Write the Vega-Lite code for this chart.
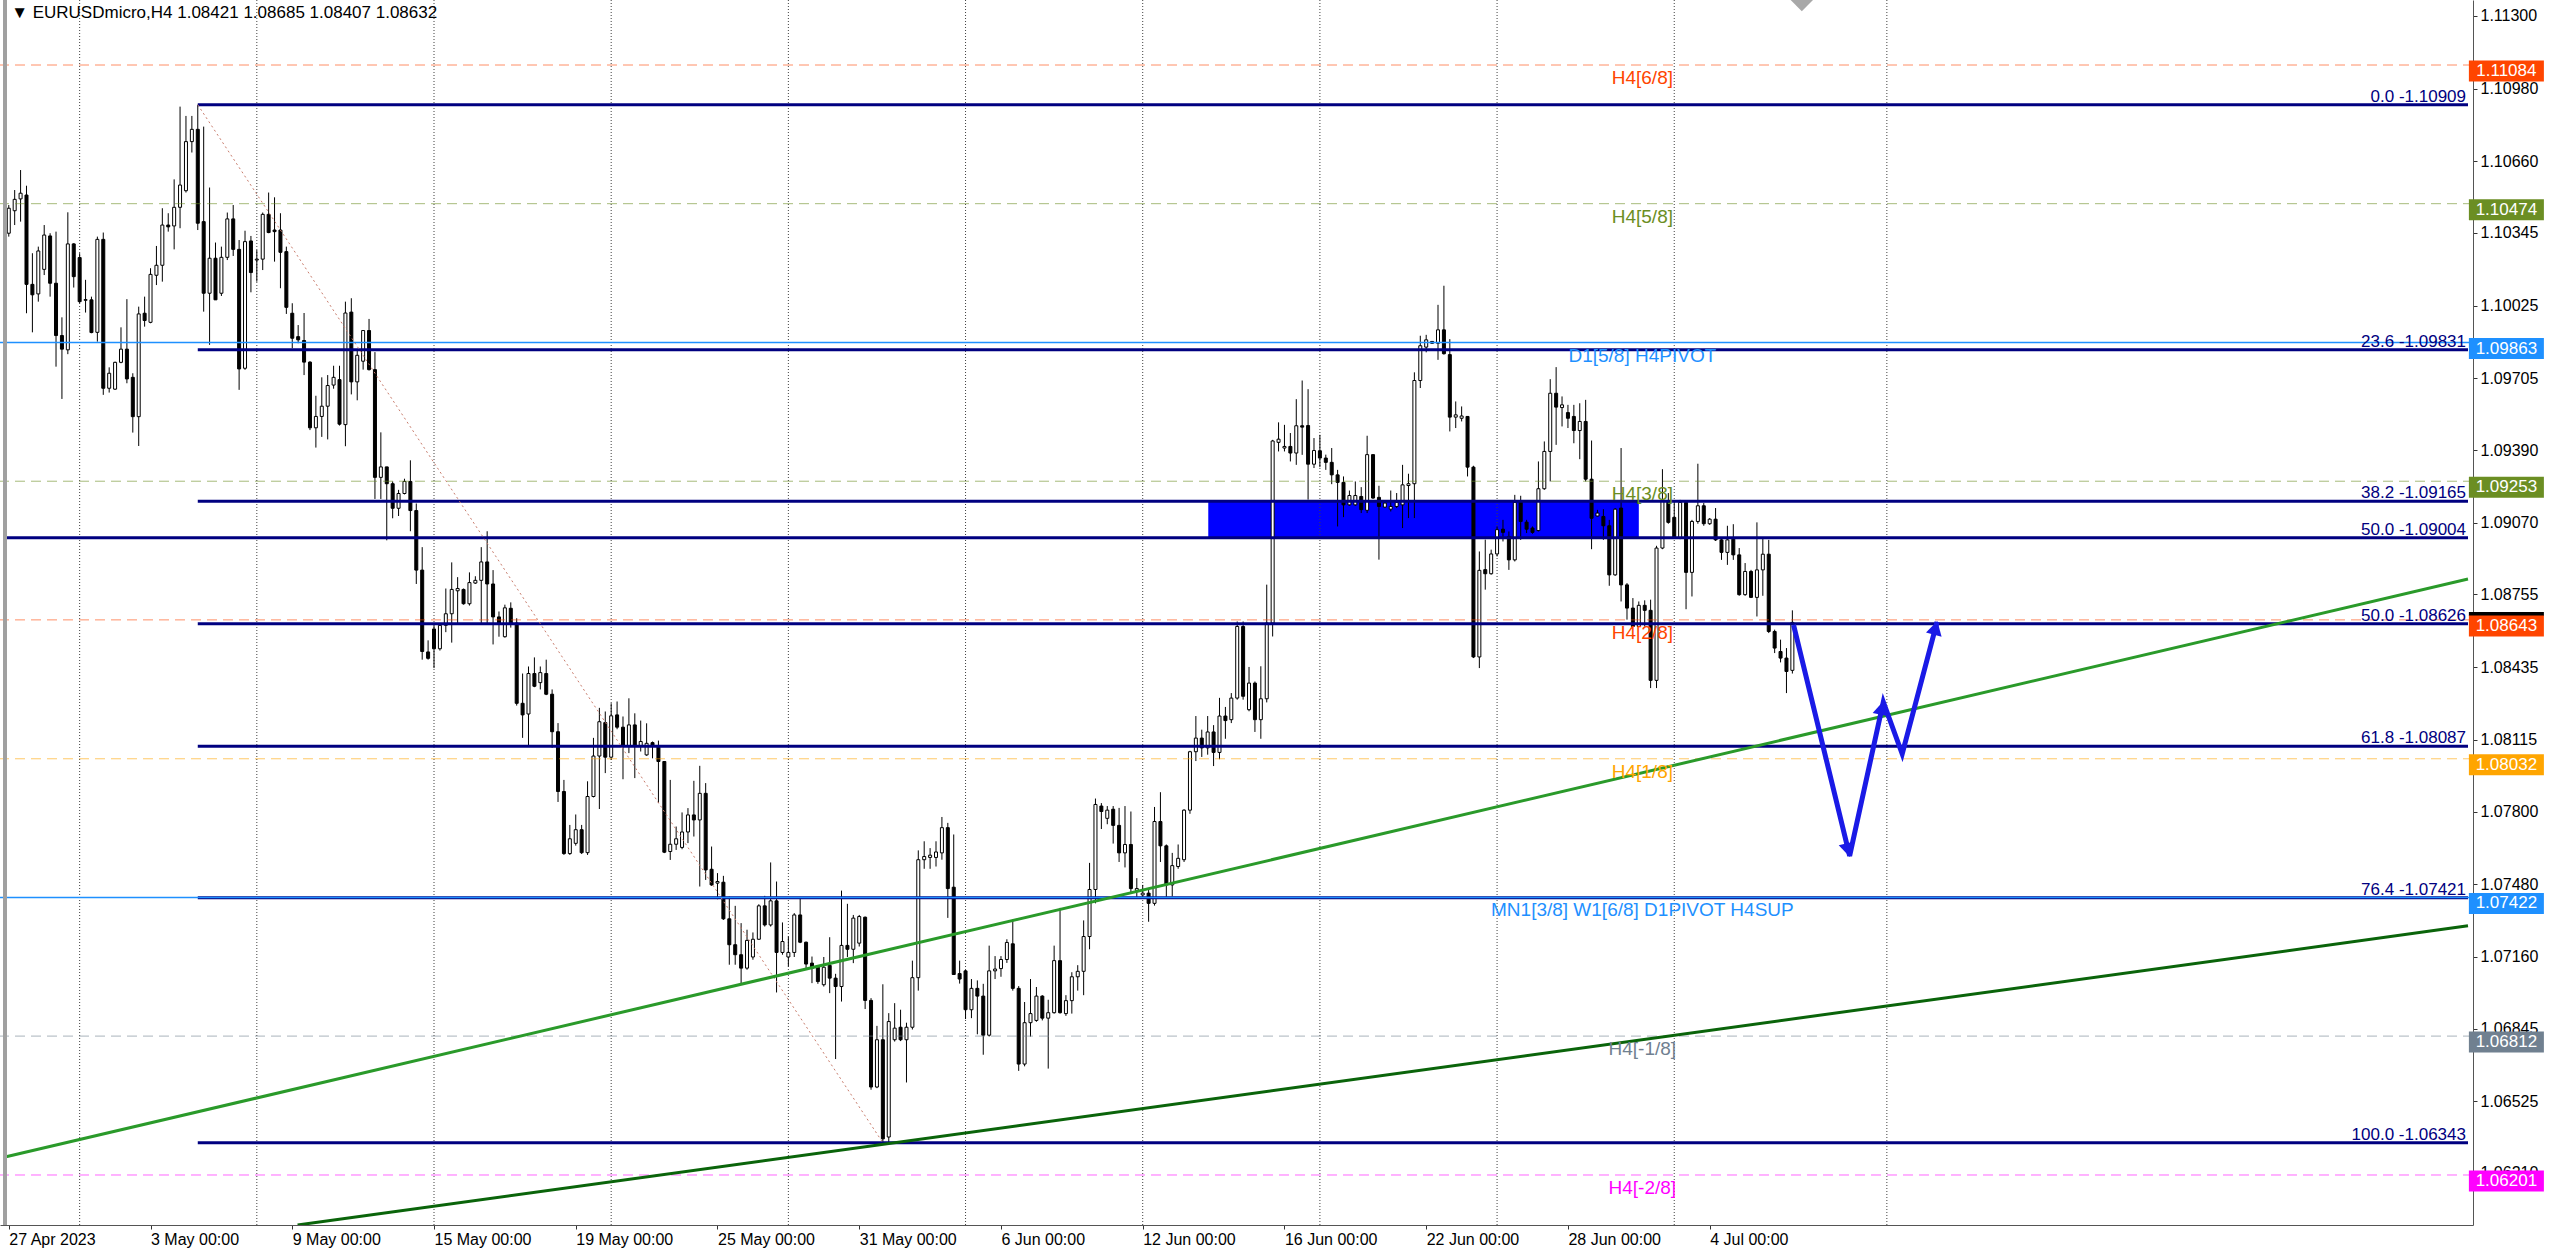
{
"$schema":"https://vega.github.io/schema/vega-lite/v6.json",
"width":2473,"height":1225,
"autosize":{"type":"none"},
"padding":{"left":0,"top":0,"right":87,"bottom":26},
"background":"white",
"config":{"view":{"stroke":null},"font":"Liberation Sans"},
"datasets":{
"one":[{}],
"grid":[{"n":12},{"n":42},{"n":72},{"n":102},{"n":132},{"n":162},{"n":192},{"n":222},{"n":252},{"n":282},{"n":318}],
"zone":[{"n1":203.1,"n2":276,"p1":1.09165,"p2":1.09004}],
"levels":[
{"name":"H4[6/8]","p":1.11084,"kind":"murrey"},
{"name":"H4[5/8]","p":1.10474,"kind":"murrey"},
{"name":"D1[5/8] H4PIVOT","p":1.09863,"kind":"pivot"},
{"name":"H4[3/8]","p":1.09253,"kind":"murrey"},
{"name":"H4[2/8]","p":1.08643,"kind":"murrey"},
{"name":"H4[1/8]","p":1.08032,"kind":"murrey"},
{"name":"MN1[3/8] W1[6/8] D1PIVOT H4SUP","p":1.07422,"kind":"pivot"},
{"name":"H4[-1/8]","p":1.06812,"kind":"murrey"},
{"name":"H4[-2/8]","p":1.06201,"kind":"murrey"}],
"fib":[
{"p":1.10909,"start":32,"label":"0.0 -1.10909"},
{"p":1.09831,"start":32,"label":"23.6 -1.09831"},
{"p":1.09165,"start":32,"label":"38.2 -1.09165"},
{"p":1.09004,"start":-0.64,"label":"50.0 -1.09004"},
{"p":1.08626,"start":32,"label":"50.0 -1.08626"},
{"p":1.08087,"start":32,"label":"61.8 -1.08087"},
{"p":1.07421,"start":32,"label":"76.4 -1.07421"},
{"p":1.06343,"start":32,"label":"100.0 -1.06343"}],
"trends":[
{"line":"A","n1":-0.64,"p1":1.0628,"n2":416.4,"p2":1.08823},
{"line":"B","n1":48.9,"p1":1.05981,"n2":416.4,"p2":1.07297}],
"arrow":[{"i":1,"n":302.2,"p":1.08621},{"i":2,"n":311.7,"p":1.07605},{"i":3,"n":317.4,"p":1.08282},{"i":4,"n":320.6,"p":1.08053},{"i":5,"n":326.5,"p":1.08634}],
"candles":[
{"n":0,"o":1.10344,"h":1.10468,"l":1.10329,"c":1.10454},
{"n":1,"o":1.10443,"h":1.10534,"l":1.1038,"c":1.10493},
{"n":2,"o":1.10495,"h":1.10622,"l":1.10395,"c":1.1052},
{"n":3,"o":1.10512,"h":1.10553,"l":1.09992,"c":1.10119},
{"n":4,"o":1.10119,"h":1.10256,"l":1.09908,"c":1.10073},
{"n":5,"o":1.10077,"h":1.10285,"l":1.10043,"c":1.10266},
{"n":6,"o":1.10185,"h":1.1038,"l":1.1016,"c":1.10336},
{"n":7,"o":1.10332,"h":1.10344,"l":1.10065,"c":1.10124},
{"n":8,"o":1.10124,"h":1.10351,"l":1.09757,"c":1.09894},
{"n":9,"o":1.09894,"h":1.09974,"l":1.09615,"c":1.09834},
{"n":10,"o":1.09831,"h":1.10436,"l":1.09812,"c":1.10297},
{"n":11,"o":1.10297,"h":1.103,"l":1.10105,"c":1.10153},
{"n":12,"o":1.10237,"h":1.10256,"l":1.10036,"c":1.10043},
{"n":13,"o":1.10049,"h":1.10139,"l":1.09995,"c":1.10052},
{"n":14,"o":1.10051,"h":1.10065,"l":1.09904,"c":1.09907},
{"n":15,"o":1.09908,"h":1.10329,"l":1.09867,"c":1.10317},
{"n":16,"o":1.10317,"h":1.10347,"l":1.09633,"c":1.09662},
{"n":17,"o":1.09662,"h":1.09754,"l":1.09643,"c":1.09728},
{"n":18,"o":1.09658,"h":1.09779,"l":1.09655,"c":1.09776},
{"n":19,"o":1.09776,"h":1.0993,"l":1.09772,"c":1.09834},
{"n":20,"o":1.09834,"h":1.10054,"l":1.09684,"c":1.09703},
{"n":21,"o":1.0971,"h":1.09728,"l":1.09467,"c":1.09537},
{"n":22,"o":1.09537,"h":1.10021,"l":1.09408,"c":1.09989},
{"n":23,"o":1.09992,"h":1.10065,"l":1.09933,"c":1.0996},
{"n":24,"o":1.09952,"h":1.1019,"l":1.09948,"c":1.10163},
{"n":25,"o":1.10159,"h":1.10288,"l":1.10116,"c":1.10203},
{"n":26,"o":1.10203,"h":1.10454,"l":1.10131,"c":1.1038},
{"n":27,"o":1.1038,"h":1.10432,"l":1.10351,"c":1.10372},
{"n":28,"o":1.10376,"h":1.10581,"l":1.10273,"c":1.10458},
{"n":29,"o":1.10458,"h":1.10901,"l":1.10366,"c":1.10556},
{"n":30,"o":1.10531,"h":1.1086,"l":1.10523,"c":1.10747},
{"n":31,"o":1.10747,"h":1.1086,"l":1.10699,"c":1.10801},
{"n":32,"o":1.10801,"h":1.10909,"l":1.10358,"c":1.10388},
{"n":33,"o":1.10395,"h":1.10813,"l":1.09999,"c":1.1008},
{"n":34,"o":1.1008,"h":1.10545,"l":1.09853,"c":1.10234},
{"n":35,"o":1.10234,"h":1.10303,"l":1.10051,"c":1.10051},
{"n":36,"o":1.1008,"h":1.10285,"l":1.10068,"c":1.10238},
{"n":37,"o":1.10238,"h":1.10435,"l":1.10226,"c":1.10407},
{"n":38,"o":1.10407,"h":1.10468,"l":1.10244,"c":1.10273},
{"n":39,"o":1.10273,"h":1.10314,"l":1.09655,"c":1.09747},
{"n":40,"o":1.0975,"h":1.10355,"l":1.09743,"c":1.10307},
{"n":41,"o":1.1031,"h":1.10332,"l":1.10084,"c":1.10171},
{"n":42,"o":1.10226,"h":1.1027,"l":1.10131,"c":1.1023},
{"n":43,"o":1.1023,"h":1.10435,"l":1.10182,"c":1.10427},
{"n":44,"o":1.10427,"h":1.10523,"l":1.10344,"c":1.10347},
{"n":45,"o":1.10358,"h":1.10502,"l":1.10219,"c":1.10351},
{"n":46,"o":1.10358,"h":1.10432,"l":1.10102,"c":1.1026},
{"n":47,"o":1.10263,"h":1.10285,"l":1.09989,"c":1.10018},
{"n":48,"o":1.09992,"h":1.10036,"l":1.09838,"c":1.09882},
{"n":49,"o":1.09889,"h":1.0994,"l":1.0986,"c":1.09875},
{"n":50,"o":1.09872,"h":1.09993,"l":1.0972,"c":1.09777},
{"n":51,"o":1.09777,"h":1.09781,"l":1.09478,"c":1.09488},
{"n":52,"o":1.09488,"h":1.09629,"l":1.09401,"c":1.09538},
{"n":53,"o":1.09538,"h":1.0971,"l":1.09448,"c":1.09583},
{"n":54,"o":1.09583,"h":1.0972,"l":1.09437,"c":1.09674},
{"n":55,"o":1.09676,"h":1.09761,"l":1.0966,"c":1.0971},
{"n":56,"o":1.097,"h":1.09761,"l":1.09498,"c":1.09504},
{"n":57,"o":1.09502,"h":1.10043,"l":1.09407,"c":1.09993},
{"n":58,"o":1.09997,"h":1.10058,"l":1.09635,"c":1.0969},
{"n":59,"o":1.0969,"h":1.09827,"l":1.09609,"c":1.09807},
{"n":60,"o":1.09781,"h":1.09916,"l":1.09744,"c":1.09916},
{"n":61,"o":1.09916,"h":1.09967,"l":1.0974,"c":1.09744},
{"n":62,"o":1.09744,"h":1.09821,"l":1.09175,"c":1.0927},
{"n":63,"o":1.0927,"h":1.09468,"l":1.09175,"c":1.09316},
{"n":64,"o":1.09316,"h":1.09316,"l":1.08993,"c":1.09242},
{"n":65,"o":1.09242,"h":1.09252,"l":1.0909,"c":1.09134},
{"n":66,"o":1.09134,"h":1.09215,"l":1.091,"c":1.09199},
{"n":67,"o":1.09199,"h":1.09264,"l":1.09195,"c":1.09252},
{"n":68,"o":1.09252,"h":1.09345,"l":1.09033,"c":1.09124},
{"n":69,"o":1.09124,"h":1.09155,"l":1.08801,"c":1.08862},
{"n":70,"o":1.08862,"h":1.08963,"l":1.08468,"c":1.08504},
{"n":71,"o":1.08502,"h":1.08553,"l":1.08468,"c":1.08474},
{"n":72,"o":1.08603,"h":1.08629,"l":1.08431,"c":1.08516},
{"n":73,"o":1.08516,"h":1.08629,"l":1.08508,"c":1.08619},
{"n":74,"o":1.08619,"h":1.08781,"l":1.08589,"c":1.0867},
{"n":75,"o":1.0867,"h":1.08896,"l":1.08543,"c":1.08777},
{"n":76,"o":1.08771,"h":1.08831,"l":1.08629,"c":1.08781},
{"n":77,"o":1.08777,"h":1.08781,"l":1.0871,"c":1.08714},
{"n":78,"o":1.08714,"h":1.08852,"l":1.08706,"c":1.08807},
{"n":79,"o":1.08805,"h":1.08835,"l":1.08801,"c":1.08817},
{"n":80,"o":1.08817,"h":1.08963,"l":1.08629,"c":1.08898},
{"n":81,"o":1.08898,"h":1.09033,"l":1.08629,"c":1.08801},
{"n":82,"o":1.08801,"h":1.08862,"l":1.08535,"c":1.08656},
{"n":83,"o":1.08656,"h":1.0868,"l":1.08569,"c":1.08623},
{"n":84,"o":1.08569,"h":1.0871,"l":1.08565,"c":1.08696},
{"n":85,"o":1.08694,"h":1.0872,"l":1.08609,"c":1.08629},
{"n":86,"o":1.08629,"h":1.0865,"l":1.08266,"c":1.08276},
{"n":87,"o":1.08276,"h":1.08407,"l":1.08124,"c":1.08225},
{"n":88,"o":1.08229,"h":1.08438,"l":1.08088,"c":1.08407},
{"n":89,"o":1.08407,"h":1.08478,"l":1.08347,"c":1.08351},
{"n":90,"o":1.08367,"h":1.08438,"l":1.08337,"c":1.08411},
{"n":91,"o":1.08407,"h":1.08468,"l":1.08312,"c":1.08316},
{"n":92,"o":1.08316,"h":1.08337,"l":1.0808,"c":1.08151},
{"n":93,"o":1.08151,"h":1.08189,"l":1.07842,"c":1.07888},
{"n":94,"o":1.07888,"h":1.07939,"l":1.07609,"c":1.07615},
{"n":95,"o":1.07615,"h":1.07741,"l":1.07609,"c":1.0768},
{"n":96,"o":1.0766,"h":1.07787,"l":1.0765,"c":1.0772},
{"n":97,"o":1.0772,"h":1.07741,"l":1.07613,"c":1.07619},
{"n":98,"o":1.07619,"h":1.07933,"l":1.07609,"c":1.07866},
{"n":99,"o":1.07866,"h":1.08124,"l":1.07862,"c":1.08044},
{"n":100,"o":1.08044,"h":1.08256,"l":1.07811,"c":1.08195},
{"n":101,"o":1.08191,"h":1.0824,"l":1.07969,"c":1.08039},
{"n":102,"o":1.08039,"h":1.08276,"l":1.08027,"c":1.08221},
{"n":103,"o":1.08225,"h":1.08284,"l":1.08162,"c":1.08171},
{"n":104,"o":1.08171,"h":1.08218,"l":1.07942,"c":1.08086},
{"n":105,"o":1.08086,"h":1.08298,"l":1.08057,"c":1.08181},
{"n":106,"o":1.08181,"h":1.08232,"l":1.07947,"c":1.08086},
{"n":107,"o":1.08089,"h":1.082,"l":1.08064,"c":1.08108},
{"n":108,"o":1.08049,"h":1.08188,"l":1.08045,"c":1.081},
{"n":109,"o":1.08103,"h":1.08108,"l":1.08034,"c":1.08092},
{"n":110,"o":1.08083,"h":1.08112,"l":1.07837,"c":1.0802},
{"n":111,"o":1.0802,"h":1.0802,"l":1.07617,"c":1.07621},
{"n":112,"o":1.07624,"h":1.07939,"l":1.07587,"c":1.07656},
{"n":113,"o":1.07656,"h":1.07734,"l":1.07631,"c":1.0768},
{"n":114,"o":1.07642,"h":1.07796,"l":1.07634,"c":1.0771},
{"n":115,"o":1.0771,"h":1.07815,"l":1.07661,"c":1.07785},
{"n":116,"o":1.07785,"h":1.07935,"l":1.0769,"c":1.07763},
{"n":117,"o":1.07763,"h":1.08001,"l":1.0747,"c":1.0788},
{"n":118,"o":1.0788,"h":1.07925,"l":1.07499,"c":1.07543},
{"n":119,"o":1.07546,"h":1.07646,"l":1.07473,"c":1.07477},
{"n":120,"o":1.07485,"h":1.07529,"l":1.07414,"c":1.07492},
{"n":121,"o":1.07489,"h":1.07517,"l":1.07323,"c":1.07328},
{"n":122,"o":1.07328,"h":1.07426,"l":1.07126,"c":1.07214},
{"n":123,"o":1.07214,"h":1.07385,"l":1.07126,"c":1.0717},
{"n":124,"o":1.0717,"h":1.07309,"l":1.07045,"c":1.07111},
{"n":125,"o":1.07111,"h":1.0728,"l":1.07104,"c":1.07233},
{"n":126,"o":1.0716,"h":1.07268,"l":1.07148,"c":1.07238},
{"n":127,"o":1.07238,"h":1.07392,"l":1.07236,"c":1.07385},
{"n":128,"o":1.07385,"h":1.07429,"l":1.07294,"c":1.07301},
{"n":129,"o":1.07301,"h":1.07576,"l":1.07294,"c":1.07407},
{"n":130,"o":1.07407,"h":1.07492,"l":1.07004,"c":1.0718},
{"n":131,"o":1.0718,"h":1.07312,"l":1.0717,"c":1.07228},
{"n":132,"o":1.0716,"h":1.0725,"l":1.07118,"c":1.0718},
{"n":133,"o":1.0718,"h":1.07353,"l":1.0716,"c":1.07345},
{"n":134,"o":1.07345,"h":1.07419,"l":1.07221,"c":1.07225},
{"n":135,"o":1.07225,"h":1.07228,"l":1.07111,"c":1.07129},
{"n":136,"o":1.07133,"h":1.07162,"l":1.07045,"c":1.07111},
{"n":137,"o":1.07115,"h":1.07121,"l":1.07042,"c":1.07052},
{"n":138,"o":1.07038,"h":1.0716,"l":1.0703,"c":1.07115},
{"n":139,"o":1.07123,"h":1.07247,"l":1.07001,"c":1.07067},
{"n":140,"o":1.07067,"h":1.07086,"l":1.06711,"c":1.0703},
{"n":141,"o":1.0703,"h":1.07452,"l":1.06964,"c":1.07211},
{"n":142,"o":1.07211,"h":1.07394,"l":1.0716,"c":1.07194},
{"n":143,"o":1.07194,"h":1.07345,"l":1.07133,"c":1.07331},
{"n":144,"o":1.07221,"h":1.07345,"l":1.07206,"c":1.07338},
{"n":145,"o":1.07335,"h":1.07338,"l":1.06931,"c":1.06969},
{"n":146,"o":1.06969,"h":1.06979,"l":1.06576,"c":1.06588},
{"n":147,"o":1.06588,"h":1.06857,"l":1.06583,"c":1.06796},
{"n":148,"o":1.06796,"h":1.0704,"l":1.06343,"c":1.0636},
{"n":149,"o":1.06368,"h":1.06913,"l":1.06343,"c":1.06876},
{"n":150,"o":1.06796,"h":1.06957,"l":1.06788,"c":1.06847},
{"n":151,"o":1.06851,"h":1.06928,"l":1.0679,"c":1.06796},
{"n":152,"o":1.06796,"h":1.06871,"l":1.06608,"c":1.06851},
{"n":153,"o":1.06851,"h":1.07144,"l":1.06841,"c":1.07069},
{"n":154,"o":1.07069,"h":1.07629,"l":1.07012,"c":1.07588},
{"n":155,"o":1.07588,"h":1.07669,"l":1.07548,"c":1.07602},
{"n":156,"o":1.07598,"h":1.07639,"l":1.07548,"c":1.07608},
{"n":157,"o":1.07598,"h":1.07669,"l":1.07558,"c":1.07622},
{"n":158,"o":1.07618,"h":1.07776,"l":1.07588,"c":1.07729},
{"n":159,"o":1.07729,"h":1.0775,"l":1.07332,"c":1.07461},
{"n":160,"o":1.07467,"h":1.07699,"l":1.07083,"c":1.07083},
{"n":161,"o":1.07087,"h":1.07144,"l":1.07043,"c":1.07063},
{"n":162,"o":1.07099,"h":1.07103,"l":1.06887,"c":1.06928},
{"n":163,"o":1.06928,"h":1.07063,"l":1.06891,"c":1.07022},
{"n":164,"o":1.07022,"h":1.07057,"l":1.0682,"c":1.06988},
{"n":165,"o":1.06988,"h":1.07042,"l":1.0673,"c":1.06816},
{"n":166,"o":1.06816,"h":1.0721,"l":1.0681,"c":1.07099},
{"n":167,"o":1.07099,"h":1.07164,"l":1.07063,"c":1.07107},
{"n":168,"o":1.07109,"h":1.07164,"l":1.07073,"c":1.07149},
{"n":169,"o":1.07149,"h":1.07238,"l":1.07134,"c":1.07224},
{"n":170,"o":1.07218,"h":1.07325,"l":1.07012,"c":1.07022},
{"n":171,"o":1.07022,"h":1.07032,"l":1.06659,"c":1.06689},
{"n":172,"o":1.06689,"h":1.06962,"l":1.06679,"c":1.06871},
{"n":173,"o":1.06871,"h":1.07063,"l":1.0681,"c":1.06911},
{"n":174,"o":1.06881,"h":1.07028,"l":1.06875,"c":1.06988},
{"n":175,"o":1.06988,"h":1.06992,"l":1.06881,"c":1.06891},
{"n":176,"o":1.06891,"h":1.06972,"l":1.06669,"c":1.06915},
{"n":177,"o":1.06915,"h":1.0721,"l":1.06911,"c":1.07144},
{"n":178,"o":1.07144,"h":1.07376,"l":1.06911,"c":1.06915},
{"n":179,"o":1.06911,"h":1.06992,"l":1.06901,"c":1.06968},
{"n":180,"o":1.06968,"h":1.07093,"l":1.06911,"c":1.07073},
{"n":181,"o":1.07073,"h":1.07124,"l":1.07012,"c":1.07097},
{"n":182,"o":1.07097,"h":1.07321,"l":1.06992,"c":1.0725},
{"n":183,"o":1.0725,"h":1.07574,"l":1.07194,"c":1.07457},
{"n":184,"o":1.07457,"h":1.07857,"l":1.07396,"c":1.07831},
{"n":185,"o":1.07824,"h":1.07837,"l":1.07723,"c":1.078},
{"n":186,"o":1.0777,"h":1.07824,"l":1.07744,"c":1.07806},
{"n":187,"o":1.0781,"h":1.07824,"l":1.07659,"c":1.07739},
{"n":188,"o":1.07739,"h":1.07816,"l":1.07578,"c":1.07618},
{"n":189,"o":1.07618,"h":1.07824,"l":1.07554,"c":1.07655},
{"n":190,"o":1.07655,"h":1.078,"l":1.07437,"c":1.07461},
{"n":191,"o":1.07453,"h":1.07507,"l":1.07416,"c":1.07461},
{"n":192,"o":1.07433,"h":1.07477,"l":1.07416,"c":1.07441},
{"n":193,"o":1.07441,"h":1.07461,"l":1.07315,"c":1.07396},
{"n":194,"o":1.07396,"h":1.0782,"l":1.07386,"c":1.07756},
{"n":195,"o":1.07756,"h":1.07885,"l":1.07578,"c":1.07649},
{"n":196,"o":1.07649,"h":1.07655,"l":1.0742,"c":1.07477},
{"n":197,"o":1.07477,"h":1.07618,"l":1.07426,"c":1.07562},
{"n":198,"o":1.07558,"h":1.07655,"l":1.07548,"c":1.07594},
{"n":199,"o":1.07588,"h":1.0781,"l":1.07578,"c":1.07806},
{"n":200,"o":1.07806,"h":1.08067,"l":1.0779,"c":1.08063},
{"n":201,"o":1.08063,"h":1.0822,"l":1.08022,"c":1.08123},
{"n":202,"o":1.08123,"h":1.0816,"l":1.0804,"c":1.0808},
{"n":203,"o":1.0808,"h":1.0822,"l":1.0805,"c":1.0815},
{"n":204,"o":1.0815,"h":1.0818,"l":1.08,"c":1.0806},
{"n":205,"o":1.0806,"h":1.083,"l":1.0803,"c":1.0822},
{"n":206,"o":1.0822,"h":1.0826,"l":1.0812,"c":1.082},
{"n":207,"o":1.08204,"h":1.08321,"l":1.08189,"c":1.08299},
{"n":208,"o":1.08299,"h":1.08636,"l":1.08292,"c":1.08614},
{"n":209,"o":1.08614,"h":1.08636,"l":1.08292,"c":1.08307},
{"n":210,"o":1.08248,"h":1.08436,"l":1.08241,"c":1.08365},
{"n":211,"o":1.08365,"h":1.08372,"l":1.0815,"c":1.08204},
{"n":212,"o":1.08204,"h":1.08439,"l":1.0812,"c":1.08296},
{"n":213,"o":1.08296,"h":1.08798,"l":1.0828,"c":1.08629},
{"n":214,"o":1.08629,"h":1.09435,"l":1.0857,"c":1.0943},
{"n":215,"o":1.09424,"h":1.09512,"l":1.09384,"c":1.09438},
{"n":216,"o":1.09399,"h":1.09501,"l":1.09384,"c":1.09406},
{"n":217,"o":1.09406,"h":1.09465,"l":1.0934,"c":1.09377},
{"n":218,"o":1.09377,"h":1.09614,"l":1.09325,"c":1.09497},
{"n":219,"o":1.09497,"h":1.09696,"l":1.09369,"c":1.09491},
{"n":220,"o":1.09498,"h":1.09658,"l":1.09172,"c":1.09328},
{"n":221,"o":1.09328,"h":1.09443,"l":1.09311,"c":1.09388},
{"n":222,"o":1.09387,"h":1.09457,"l":1.09315,"c":1.09355},
{"n":223,"o":1.09355,"h":1.0937,"l":1.09303,"c":1.09336},
{"n":224,"o":1.09336,"h":1.09399,"l":1.0924,"c":1.09281},
{"n":225,"o":1.09281,"h":1.09303,"l":1.09054,"c":1.09248},
{"n":226,"o":1.09248,"h":1.09274,"l":1.09095,"c":1.09149},
{"n":227,"o":1.09149,"h":1.09212,"l":1.09145,"c":1.0919},
{"n":228,"o":1.09149,"h":1.09252,"l":1.09145,"c":1.0919},
{"n":229,"o":1.09186,"h":1.09227,"l":1.09113,"c":1.09128},
{"n":230,"o":1.09125,"h":1.09453,"l":1.09113,"c":1.0937},
{"n":231,"o":1.0937,"h":1.0937,"l":1.09176,"c":1.09179},
{"n":232,"o":1.09182,"h":1.09233,"l":1.08908,"c":1.09142},
{"n":233,"o":1.09139,"h":1.09164,"l":1.09135,"c":1.09157},
{"n":234,"o":1.0913,"h":1.09212,"l":1.0912,"c":1.09142},
{"n":235,"o":1.09142,"h":1.09201,"l":1.09135,"c":1.0916},
{"n":236,"o":1.09149,"h":1.09325,"l":1.09047,"c":1.09237},
{"n":237,"o":1.09234,"h":1.09286,"l":1.09091,"c":1.09242},
{"n":238,"o":1.09242,"h":1.09732,"l":1.09091,"c":1.09696},
{"n":239,"o":1.09696,"h":1.09893,"l":1.09663,"c":1.09849},
{"n":240,"o":1.09843,"h":1.09897,"l":1.0982,"c":1.09875},
{"n":241,"o":1.09868,"h":1.09868,"l":1.09858,"c":1.0986},
{"n":242,"o":1.0986,"h":1.10029,"l":1.09787,"c":1.09919},
{"n":243,"o":1.09919,"h":1.10113,"l":1.0981,"c":1.09814},
{"n":244,"o":1.0981,"h":1.09878,"l":1.09472,"c":1.09535},
{"n":245,"o":1.09535,"h":1.09604,"l":1.09487,"c":1.09545},
{"n":246,"o":1.0953,"h":1.09582,"l":1.09516,"c":1.0954},
{"n":247,"o":1.09538,"h":1.0954,"l":1.09274,"c":1.09315},
{"n":248,"o":1.09315,"h":1.09321,"l":1.08475,"c":1.0848},
{"n":249,"o":1.0848,"h":1.08944,"l":1.08431,"c":1.08861},
{"n":250,"o":1.08864,"h":1.08996,"l":1.08776,"c":1.08846},
{"n":251,"o":1.08846,"h":1.08952,"l":1.08842,"c":1.08933},
{"n":252,"o":1.08933,"h":1.09054,"l":1.08922,"c":1.0904},
{"n":253,"o":1.09042,"h":1.09083,"l":1.08988,"c":1.09028},
{"n":254,"o":1.0901,"h":1.09032,"l":1.08863,"c":1.08907},
{"n":255,"o":1.08907,"h":1.09193,"l":1.089,"c":1.0916},
{"n":256,"o":1.09167,"h":1.09189,"l":1.08995,"c":1.09076},
{"n":257,"o":1.09073,"h":1.09083,"l":1.09025,"c":1.09042},
{"n":258,"o":1.09047,"h":1.09054,"l":1.09022,"c":1.09028},
{"n":259,"o":1.09036,"h":1.0934,"l":1.09032,"c":1.0922},
{"n":260,"o":1.0922,"h":1.09428,"l":1.09215,"c":1.09384},
{"n":261,"o":1.09384,"h":1.09702,"l":1.09252,"c":1.0964},
{"n":262,"o":1.0964,"h":1.09755,"l":1.09413,"c":1.09579},
{"n":263,"o":1.09577,"h":1.09626,"l":1.09494,"c":1.09589},
{"n":264,"o":1.09555,"h":1.09589,"l":1.09487,"c":1.0953},
{"n":265,"o":1.09538,"h":1.09589,"l":1.0942,"c":1.09476},
{"n":266,"o":1.09476,"h":1.09596,"l":1.0935,"c":1.09516},
{"n":267,"o":1.09516,"h":1.09611,"l":1.09252,"c":1.09262},
{"n":268,"o":1.09262,"h":1.09432,"l":1.08954,"c":1.0909},
{"n":269,"o":1.091,"h":1.09127,"l":1.09098,"c":1.09113},
{"n":270,"o":1.09098,"h":1.0913,"l":1.08995,"c":1.09057},
{"n":271,"o":1.09057,"h":1.09083,"l":1.08793,"c":1.08841},
{"n":272,"o":1.08841,"h":1.09135,"l":1.08837,"c":1.0913},
{"n":273,"o":1.09135,"h":1.09399,"l":1.08724,"c":1.08797},
{"n":274,"o":1.08797,"h":1.08805,"l":1.08644,"c":1.08695},
{"n":275,"o":1.08695,"h":1.08739,"l":1.08611,"c":1.08614},
{"n":276,"o":1.08614,"h":1.08724,"l":1.08611,"c":1.08707},
{"n":277,"o":1.08707,"h":1.08729,"l":1.08614,"c":1.08685},
{"n":278,"o":1.08685,"h":1.08732,"l":1.08343,"c":1.08377},
{"n":279,"o":1.08377,"h":1.08969,"l":1.08343,"c":1.08959},
{"n":280,"o":1.08959,"h":1.09306,"l":1.08954,"c":1.09167},
{"n":281,"o":1.09167,"h":1.09201,"l":1.09066,"c":1.09072},
{"n":282,"o":1.09094,"h":1.09164,"l":1.09,"c":1.09003},
{"n":283,"o":1.09003,"h":1.09171,"l":1.08998,"c":1.0916},
{"n":284,"o":1.0916,"h":1.09164,"l":1.0869,"c":1.08852},
{"n":285,"o":1.08852,"h":1.09083,"l":1.08746,"c":1.09076},
{"n":286,"o":1.09076,"h":1.0933,"l":1.09066,"c":1.09145},
{"n":287,"o":1.09145,"h":1.09157,"l":1.09057,"c":1.09066},
{"n":288,"o":1.09066,"h":1.09091,"l":1.09061,"c":1.09086},
{"n":289,"o":1.09086,"h":1.09135,"l":1.0899,"c":1.08995},
{"n":290,"o":1.08995,"h":1.09003,"l":1.08907,"c":1.0894},
{"n":291,"o":1.0894,"h":1.09057,"l":1.08885,"c":1.08995},
{"n":292,"o":1.08998,"h":1.09064,"l":1.08907,"c":1.08929},
{"n":293,"o":1.08929,"h":1.08959,"l":1.08749,"c":1.08754},
{"n":294,"o":1.08754,"h":1.08893,"l":1.08749,"c":1.08856},
{"n":295,"o":1.08856,"h":1.08863,"l":1.08739,"c":1.08742},
{"n":296,"o":1.08742,"h":1.09072,"l":1.08658,"c":1.08863},
{"n":297,"o":1.08863,"h":1.09003,"l":1.08749,"c":1.08932},
{"n":298,"o":1.08932,"h":1.08995,"l":1.08585,"c":1.08592},
{"n":299,"o":1.08592,"h":1.086,"l":1.08497,"c":1.08519},
{"n":300,"o":1.08504,"h":1.08556,"l":1.08456,"c":1.08475},
{"n":301,"o":1.08475,"h":1.08519,"l":1.08321,"c":1.08416},
{"n":302,"o":1.08421,"h":1.08685,"l":1.08407,"c":1.08632}]
},
"layer":[
{"data":{"name":"zone"},"mark":{"type":"rect","fill":"#0000FF"},
 "encoding":{"x":{"field":"n1","type":"quantitative","scale":{"domain":[-0.64,416.4],"nice":false,"zero":false},
   "axis":{"orient":"bottom","values":[0,24,48,72,96,120,144,168,192,216,240,264,288],
    "labelExpr":"['27 Apr 2023','3 May 00:00','9 May 00:00','15 May 00:00','19 May 00:00','25 May 00:00','31 May 00:00','6 Jun 00:00','12 Jun 00:00','16 Jun 00:00','22 Jun 00:00','28 Jun 00:00','4 Jul 00:00'][round(datum.value/24)]",
    "labelAlign":"left","labelFontSize":16,"labelColor":"#000000","labelFont":"Liberation Sans","tickSize":4,"tickColor":"#333333","domainColor":"#555555","labelPadding":2,"grid":false,"title":null,"labelOverlap":false,"labelFlush":false,"labelBound":false}},
  "x2":{"field":"n2"},
  "y":{"field":"p1","type":"quantitative","scale":{"domain":[1.05981,1.1137],"nice":false,"zero":false},
   "axis":{"orient":"right","values":[1.113,1.1098,1.1066,1.10345,1.10025,1.09705,1.0939,1.0907,1.08755,1.08435,1.08115,1.078,1.0748,1.0716,1.06845,1.06525,1.0621],
    "format":".5f","labelFontSize":16,"labelColor":"#000000","labelFont":"Liberation Sans","tickSize":4,"tickColor":"#333333","domainColor":"#555555","labelPadding":3,"grid":false,"title":null,"labelOverlap":false,"labelFlush":false,"labelBound":false}},
  "y2":{"field":"p2"}}},
{"data":{"name":"grid"},"mark":{"type":"rule","color":"#404040","strokeWidth":1,"strokeDash":[1,2]},
 "encoding":{"x":{"field":"n","type":"quantitative","scale":{"domain":[-0.64,416.4],"nice":false,"zero":false}}}},
{"data":{"name":"candles"},"mark":{"type":"rule","color":"#000000","strokeWidth":1},
 "encoding":{
  "x":{"field":"n","type":"quantitative","scale":{"domain":[-0.64,416.4],"nice":false,"zero":false}},
  "y":{"field":"l","type":"quantitative","scale":{"domain":[1.05981,1.1137],"nice":false,"zero":false}},
  "y2":{"field":"h"}}},
{"data":{"name":"candles"},"mark":{"type":"bar","width":3,"stroke":"#000000","strokeWidth":1},
 "encoding":{
  "x":{"field":"n","type":"quantitative","scale":{"domain":[-0.64,416.4],"nice":false,"zero":false}},
  "y":{"field":"o","type":"quantitative","scale":{"domain":[1.05981,1.1137],"nice":false,"zero":false}},
  "y2":{"field":"c"},
  "fill":{"condition":{"test":"datum.c >= datum.o","value":"#ffffff"},"value":"#000000"}}},
{"data":{"name":"levels"},"transform":[{"filter":"datum.kind == 'murrey'"}],
 "mark":{"type":"rule","strokeWidth":1,"strokeDash":[10,6],"opacity":0.6},
 "encoding":{
  "y":{"field":"p","type":"quantitative","scale":{"domain":[1.05981,1.1137],"nice":false,"zero":false}},
  "color":{"field":"name","type":"nominal","legend":null,
   "scale":{"domain":["H4[6/8]","H4[5/8]","D1[5/8] H4PIVOT","H4[3/8]","H4[2/8]","H4[1/8]","MN1[3/8] W1[6/8] D1PIVOT H4SUP","H4[-1/8]","H4[-2/8]"],
    "range":["#FF4500","#6B8E23","#1E90FF","#6B8E23","#FF4500","#FFA500","#1E90FF","#708090","#FF00FF"]}}}},
{"data":{"name":"fib"},"mark":{"type":"rule","color":"#000080","strokeWidth":3},
 "encoding":{
  "x":{"field":"start","type":"quantitative","scale":{"domain":[-0.64,416.4],"nice":false,"zero":false}},
  "x2":{"datum":416.4},
  "y":{"field":"p","type":"quantitative","scale":{"domain":[1.05981,1.1137],"nice":false,"zero":false}}}},
{"data":{"name":"levels"},"transform":[{"filter":"datum.kind == 'pivot'"}],
 "mark":{"type":"rule","strokeWidth":1.5},
 "encoding":{
  "y":{"field":"p","type":"quantitative","scale":{"domain":[1.05981,1.1137],"nice":false,"zero":false}},
  "color":{"field":"name","type":"nominal","legend":null,
   "scale":{"domain":["H4[6/8]","H4[5/8]","D1[5/8] H4PIVOT","H4[3/8]","H4[2/8]","H4[1/8]","MN1[3/8] W1[6/8] D1PIVOT H4SUP","H4[-1/8]","H4[-2/8]"],
    "range":["#FF4500","#6B8E23","#1E90FF","#6B8E23","#FF4500","#FFA500","#1E90FF","#708090","#FF00FF"]}}}},
{"data":{"name":"one"},"mark":{"type":"rule","color":"#C87C6C","strokeWidth":1,"strokeDash":[2,3]},
 "encoding":{
  "x":{"datum":32,"type":"quantitative","scale":{"domain":[-0.64,416.4],"nice":false,"zero":false}},
  "x2":{"datum":148},
  "y":{"datum":1.10909,"type":"quantitative","scale":{"domain":[1.05981,1.1137],"nice":false,"zero":false}},
  "y2":{"datum":1.06343}}},
{"data":{"name":"trends"},"transform":[{"filter":"datum.line == 'A'"}],"mark":{"type":"rule","strokeWidth":3,"clip":true,"color":"#2a9a2a"},
 "encoding":{
  "x":{"field":"n1","type":"quantitative","scale":{"domain":[-0.64,416.4],"nice":false,"zero":false}},
  "x2":{"field":"n2"},
  "y":{"field":"p1","type":"quantitative","scale":{"domain":[1.05981,1.1137],"nice":false,"zero":false}},
  "y2":{"field":"p2"}}},
{"data":{"name":"trends"},"transform":[{"filter":"datum.line == 'B'"}],"mark":{"type":"rule","strokeWidth":3,"clip":true,"color":"#0a640a"},
 "encoding":{
  "x":{"field":"n1","type":"quantitative","scale":{"domain":[-0.64,416.4],"nice":false,"zero":false}},
  "x2":{"field":"n2"},
  "y":{"field":"p1","type":"quantitative","scale":{"domain":[1.05981,1.1137],"nice":false,"zero":false}},
  "y2":{"field":"p2"}}},
{"data":{"name":"levels"},
 "mark":{"type":"text","fontSize":19,"baseline":"top","align":"center","dy":4,"font":"Liberation Sans"},
 "encoding":{
  "x":{"datum":276.6,"type":"quantitative","scale":{"domain":[-0.64,416.4],"nice":false,"zero":false}},
  "y":{"field":"p","type":"quantitative","scale":{"domain":[1.05981,1.1137],"nice":false,"zero":false}},
  "text":{"field":"name"},
  "color":{"field":"name","type":"nominal","legend":null,
   "scale":{"domain":["H4[6/8]","H4[5/8]","D1[5/8] H4PIVOT","H4[3/8]","H4[2/8]","H4[1/8]","MN1[3/8] W1[6/8] D1PIVOT H4SUP","H4[-1/8]","H4[-2/8]"],
    "range":["#FF4500","#6B8E23","#1E90FF","#6B8E23","#FF4500","#FFA500","#1E90FF","#708090","#FF00FF"]}}}},
{"data":{"name":"fib"},
 "mark":{"type":"text","fontSize":17,"baseline":"alphabetic","align":"right","dy":-3,"dx":-2,"color":"#000080","font":"Liberation Sans"},
 "encoding":{
  "x":{"datum":416.4,"type":"quantitative","scale":{"domain":[-0.64,416.4],"nice":false,"zero":false}},
  "y":{"field":"p","type":"quantitative","scale":{"domain":[1.05981,1.1137],"nice":false,"zero":false}},
  "text":{"field":"label"}}},
{"data":{"name":"arrow"},"mark":{"type":"line","color":"#1A1AE6","strokeWidth":5,"strokeJoin":"miter","strokeCap":"butt"},
 "encoding":{
  "x":{"field":"n","type":"quantitative","scale":{"domain":[-0.64,416.4],"nice":false,"zero":false}},
  "y":{"field":"p","type":"quantitative","scale":{"domain":[1.05981,1.1137],"nice":false,"zero":false}},
  "order":{"field":"i"}}},
{"data":{"name":"one"},"mark":{"type":"point","shape":"triangle-up","filled":true,"color":"#1A1AE6","size":260,"angle":166,"opacity":1},
 "encoding":{
  "x":{"datum":311.46,"type":"quantitative","scale":{"domain":[-0.64,416.4],"nice":false,"zero":false}},
  "y":{"datum":1.0763,"type":"quantitative","scale":{"domain":[1.05981,1.1137],"nice":false,"zero":false}}}},
{"data":{"name":"one"},"mark":{"type":"point","shape":"triangle-up","filled":true,"color":"#1A1AE6","size":260,"angle":12,"opacity":1},
 "encoding":{
  "x":{"datum":317.18,"type":"quantitative","scale":{"domain":[-0.64,416.4],"nice":false,"zero":false}},
  "y":{"datum":1.08256,"type":"quantitative","scale":{"domain":[1.05981,1.1137],"nice":false,"zero":false}}}},
{"data":{"name":"one"},"mark":{"type":"point","shape":"triangle-up","filled":true,"color":"#1A1AE6","size":260,"angle":15,"opacity":1},
 "encoding":{
  "x":{"datum":326.25,"type":"quantitative","scale":{"domain":[-0.64,416.4],"nice":false,"zero":false}},
  "y":{"datum":1.08608,"type":"quantitative","scale":{"domain":[1.05981,1.1137],"nice":false,"zero":false}}}},
{"data":{"name":"one"},"mark":{"type":"rect","width":75,"height":4,"color":"#000000"},
 "encoding":{
  "x":{"datum":422.9,"type":"quantitative","scale":{"domain":[-0.64,416.4],"nice":false,"zero":false}},
  "y":{"datum":1.08669,"type":"quantitative","scale":{"domain":[1.05981,1.1137],"nice":false,"zero":false}}}},
{"data":{"name":"levels"},"mark":{"type":"rect","width":75,"height":21,"yOffset":6},
 "encoding":{
  "x":{"datum":422.9,"type":"quantitative","scale":{"domain":[-0.64,416.4],"nice":false,"zero":false}},
  "y":{"field":"p","type":"quantitative","scale":{"domain":[1.05981,1.1137],"nice":false,"zero":false}},
  "color":{"field":"name","type":"nominal","legend":null,
   "scale":{"domain":["H4[6/8]","H4[5/8]","D1[5/8] H4PIVOT","H4[3/8]","H4[2/8]","H4[1/8]","MN1[3/8] W1[6/8] D1PIVOT H4SUP","H4[-1/8]","H4[-2/8]"],
    "range":["#FF4500","#6B8E23","#1E90FF","#6B8E23","#FF4500","#FFA500","#1E90FF","#708090","#FF00FF"]}}}},
{"data":{"name":"levels"},"mark":{"type":"text","fontSize":17,"color":"#ffffff","align":"center","baseline":"middle","dy":6,"font":"Liberation Sans"},
 "encoding":{
  "x":{"datum":422.9,"type":"quantitative","scale":{"domain":[-0.64,416.4],"nice":false,"zero":false}},
  "y":{"field":"p","type":"quantitative","scale":{"domain":[1.05981,1.1137],"nice":false,"zero":false}},
  "text":{"field":"p","format":".5f"}}},
{"data":{"name":"one"},"mark":{"type":"text","fontSize":17,"color":"#000000","align":"left","baseline":"middle","font":"Liberation Sans, DejaVu Sans"},
 "encoding":{
  "x":{"datum":0.4,"type":"quantitative","scale":{"domain":[-0.64,416.4],"nice":false,"zero":false}},
  "y":{"datum":1.11313,"type":"quantitative","scale":{"domain":[1.05981,1.1137],"nice":false,"zero":false}},
  "text":{"value":"▼ EURUSDmicro,H4  1.08421 1.08685 1.08407 1.08632"}}},
{"data":{"name":"one"},"mark":{"type":"rule","color":"#A0A0A0","strokeWidth":4},
 "encoding":{
  "x":{"datum":-0.64,"type":"quantitative","scale":{"domain":[-0.64,416.4],"nice":false,"zero":false}}}},
{"data":{"name":"one"},"mark":{"type":"point","shape":"diamond","filled":true,"color":"#A8A8A8","size":500,"opacity":1},
 "encoding":{
  "x":{"datum":303.6,"type":"quantitative","scale":{"domain":[-0.64,416.4],"nice":false,"zero":false}},
  "y":{"datum":1.1137,"type":"quantitative","scale":{"domain":[1.05981,1.1137],"nice":false,"zero":false}}}}
]
}
